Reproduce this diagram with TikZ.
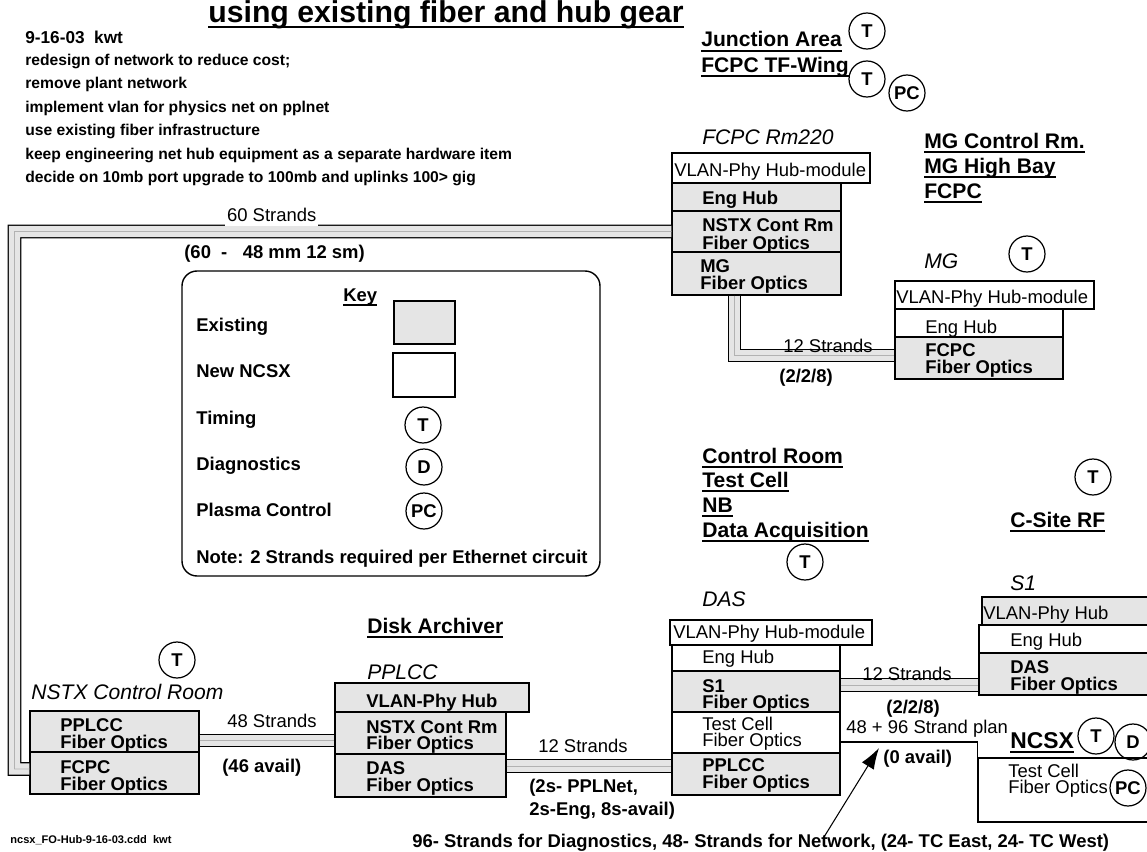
\documentclass[tikz,border=0pt]{standalone}
\usepackage{fontspec}
\setmainfont{Liberation Sans}
\usetikzlibrary{fit,arrows.meta}
\newcommand\myul[1]{\setbox0=\hbox{#1}\rlap{\rule[-2.7pt]{\wd0}{1.1pt}}\box0}
\newcommand\myulT[1]{\setbox0=\hbox{#1}\rlap{\rule[-3.4pt]{\wd0}{1.3pt}}\box0}
\tikzset{
  exist/.style={draw, line width=0.8pt, fill=gray!20, inner sep=0pt},
  newb/.style={draw, line width=0.8pt, fill=white, inner sep=0pt},
  bt/.style={font=\fontsize{10.5pt}{12pt}\selectfont\bfseries, anchor=base west, inner sep=0pt},
  rt/.style={font=\fontsize{10.5pt}{12pt}\selectfont, anchor=base west, inner sep=0pt},
  it/.style={font=\fontsize{12pt}{14pt}\selectfont\itshape, anchor=base west, inner sep=0pt},
  loc/.style={font=\fontsize{12pt}{14pt}\selectfont\bfseries, anchor=base west, inner sep=0pt},
  notet/.style={font=\fontsize{8.9pt}{11pt}\selectfont\bfseries, anchor=base west, inner sep=0pt},
  circ/.style={circle, draw, line width=0.7pt, minimum size=0.72cm, inner sep=0pt, font=\fontsize{10.5pt}{12pt}\selectfont\bfseries},
  cable/.style={line width=0.7pt, double=gray!20, double distance=6.4pt},
  cablemid/.style={line width=0.3pt, draw=gray!60},
}
\begin{document}
\begin{tikzpicture}[x=0.02cm,y=-0.02cm]
\useasboundingbox (0,0) rectangle (1147,852);
\clip (0,0) rectangle (1147,852);

% ---------- title and notes ----------
\node[font=\fontsize{17.2pt}{20pt}\selectfont\bfseries, anchor=base west, inner sep=0pt] (title) at (208,22) {\myulT{using existing fiber and hub gear}};
\node[notet, font=\fontsize{9.8pt}{11pt}\selectfont\bfseries] (n1) at (25,43) {9-16-03\ \ kwt};
\node[notet] (n2) at (25,65.4) {redesign of network to reduce cost;};
\node[notet] (n3) at (25,88.8) {remove plant network};
\node[notet] (n4) at (25,112.2) {implement vlan for physics net on pplnet};
\node[notet] (n5) at (25,135.6) {use existing fiber infrastructure};
\node[notet] (n6) at (25,159) {keep engineering net hub equipment as a separate hardware item};
\node[notet] (n7) at (25,182.4) {decide on 10mb port upgrade to 100mb and uplinks 100> gig};

% ---------- junction area ----------
\node[loc] (ja) at (701,47) {\myul{Junction Area}};
\node[loc] (jb) at (701,72) {\myul{FCPC TF-Wing}};
\node[circ] (jT1) at (867,31) {T};
\node[circ] (jT2) at (867,79) {T};
\node[circ] (jPC) at (907,93) {PC};

% ---------- FCPC Rm220 ----------
\node[it] (fl) at (702,144) {FCPC Rm220};
\node[newb, fit={(672,153) (870,183)}] (fV) {};
\node[exist, fit={(672,183) (841,211)}] (fEng) {};
\node[exist, fit={(672,211) (841,252)}] (fNSTX) {};
\node[exist, fit={(672,252) (841,295)}] (fMG) {};
\node[rt] at (674,176) {VLAN-Phy Hub-module};
\node[bt] at (702,204) {Eng Hub};
\node[bt] at (702,231) {NSTX Cont Rm};
\node[bt] at (702,249) {Fiber Optics};
\node[bt] at (700,272) {MG};
\node[bt] at (700,289) {Fiber Optics};

% ---------- MG ----------
\node[loc] (mga) at (924,148) {\myul{MG Control Rm.}};
\node[loc] (mgb) at (924,173) {\myul{MG High Bay}};
\node[loc] (mgc) at (924,198) {\myul{FCPC}};
\node[it] (ml) at (924,268) {MG};
\node[circ] (mT) at (1027,254) {T};
\node[newb, fit={(895,281) (1094,309)}] (mV) {};
\node[newb, fit={(895,309) (1063,337)}] (mEng) {};
\node[exist, fit={(895,337) (1063,379)}] (mFO) {};
\node[rt] at (896,303) {VLAN-Phy Hub-module};
\node[rt] at (925,333) {Eng Hub};
\node[bt] at (925,356) {FCPC};
\node[bt] at (925,373) {Fiber Optics};

% ---------- Key ----------
\node[draw, line width=0.8pt, rounded corners=0.3cm, fit={(182,271) (600,576)}, inner sep=0pt] (key) {};
\node[bt] at (343,301) {\myul{Key}};
\node[bt] at (196,331) {Existing};
\node[bt] at (196,377) {New NCSX};
\node[bt] at (196,424) {Timing};
\node[bt] at (196,470) {Diagnostics};
\node[bt] at (196,516) {Plasma Control};
\node[bt] at (196,563) {Note: 2 Strands required per Ethernet circuit};
\node[exist, fit={(394,301) (455,344)}] (kEx) {};
\node[newb, fit={(393,353) (455,397)}] (kNew) {};
\node[circ] (kT) at (423,425) {T};
\node[circ] (kD) at (424,467) {D};
\node[circ] (kPC) at (424,511) {PC};

% ---------- Control room / C-site ----------
\node[loc] (cr1) at (702,463) {\myul{Control Room}};
\node[loc] (cr2) at (702,487) {\myul{Test Cell}};
\node[loc] (cr3) at (702,512) {\myul{NB}};
\node[loc] (cr4) at (702,537) {\myul{Data Acquisition}};
\node[circ] (crT) at (805,562) {T};
\node[loc] (cs) at (1010,527) {\myul{C-Site RF}};
\node[circ] (csT) at (1093,477) {T};

% ---------- NSTX Control Room ----------
\node[it] (nl) at (31,699) {NSTX Control Room};
\node[circ] (nT) at (177,660) {T};
\node[exist, fit={(30,711) (199,752)}] (nP) {};
\node[exist, fit={(30,752) (199,794)}] (nF) {};
\node[bt] at (60,731) {PPLCC};
\node[bt] at (60,748) {Fiber Optics};
\node[bt] at (60,773) {FCPC};
\node[bt] at (60,790) {Fiber Optics};

% ---------- PPLCC ----------
\node[loc] (da) at (367,633) {\myul{Disk Archiver}};
\node[it] (pl) at (367,679) {PPLCC};
\node[exist, fit={(335,683) (529,712)}] (pV) {};
\node[exist, fit={(335,712) (506,754)}] (pN) {};
\node[exist, fit={(335,754) (506,797)}] (pD) {};
\node[bt] at (366,707) {VLAN-Phy Hub};
\node[bt] at (366,733) {NSTX Cont Rm};
\node[bt] at (366,749) {Fiber Optics};
\node[bt] at (366,774) {DAS};
\node[bt] at (366,791) {Fiber Optics};

% ---------- DAS ----------
\node[it] (dl) at (702,606) {DAS};
\node[newb, fit={(670,620) (872,645)}] (dV) {};
\node[newb, fit={(672,645) (840,671)}] (dEng) {};
\node[exist, fit={(672,671) (840,712)}] (dS1) {};
\node[newb, fit={(672,712) (840,753)}] (dTC) {};
\node[exist, fit={(672,753) (840,795)}] (dP) {};
\node[rt] at (673,638) {VLAN-Phy Hub-module};
\node[rt] at (702,663) {Eng Hub};
\node[bt] at (702,692) {S1};
\node[bt] at (702,708) {Fiber Optics};
\node[rt] at (702,730) {Test Cell};
\node[rt] at (702,746) {Fiber Optics};
\node[bt] at (702,771) {PPLCC};
\node[bt] at (702,788) {Fiber Optics};

% ---------- S1 ----------
\node[it] (sl) at (1010,590) {S1};
\node[exist, fit={(982,597) (1152,625)}] (sV) {};
\node[newb, fit={(979,625) (1152,653)}] (sEng) {};
\node[exist, fit={(979,653) (1152,695)}] (sD) {};
\node[rt] at (983,619) {VLAN-Phy Hub};
\node[rt] at (1010,646) {Eng Hub};
\node[bt] at (1010,673) {DAS};
\node[bt] at (1010,690) {Fiber Optics};

% ---------- NCSX ----------
\node[font=\fontsize{13pt}{15pt}\selectfont\bfseries, anchor=base west, inner sep=0pt] (ncl) at (1010,748) {\myul{NCSX}};
\node[newb, fit={(978,758) (1152,822)}] (ncB) {};
\node[rt] at (1008,777) {Test Cell};
\node[rt] at (1008,793) {Fiber Optics};
\node[circ] (ncT) at (1096,736) {T};
\node[circ] (ncD) at (1133,742) {D};
\node[circ] (ncPC) at (1128,788) {PC};

% ---------- cables ----------
\coordinate (c60a) at (14.5,231.5);
\coordinate (c60b) at (14.5,769);
\draw[cable] (fNSTX.west) -- (c60a) -- (c60b) -- (c60b -| nF.west);
\draw[cablemid] (fNSTX.west) -- (c60a) -- (c60b) -- (c60b -| nF.west);

\coordinate (cmg) at (734.5,355.5);
\draw[cable] (fMG.south -| cmg) -- (cmg) -- (cmg -| mFO.west);
\draw[cablemid] (fMG.south -| cmg) -- (cmg) -- (cmg -| mFO.west);

\coordinate (c48) at (199,740.5);
\draw[cable] (nP.east |- c48) -- (c48 -| pN.west);
\draw[cablemid] (nP.east |- c48) -- (c48 -| pN.west);

\coordinate (c12a) at (506,766);
\draw[cable] (pD.east |- c12a) -- (c12a -| dP.west);
\draw[cablemid] (pD.east |- c12a) -- (c12a -| dP.west);

\coordinate (c12b) at (840,685);
\draw[cable] (dS1.east |- c12b) -- (c12b -| sD.west);
\draw[cablemid] (dS1.east |- c12b) -- (c12b -| sD.west);

\coordinate (c144) at (840,742);
\draw[line width=0.7pt] (dTC.east |- c144) -| (ncB.north west);

% ---------- cable labels ----------
\node[rt, fill=white, inner sep=1pt, text depth=1.6pt] at (225,221) {60 Strands};
\node[bt] at (184,258) {(60\ \ -\ \ \ 48 mm 12 sm)};
\node[rt] at (783,352) {12 Strands};
\node[bt] at (779,382) {(2/2/8)};
\node[rt] at (227,727) {48 Strands};
\node[bt] at (222,772) {(46 avail)};
\node[rt] at (538,752) {12 Strands};
\node[bt] at (529,792) {(2s- PPLNet,};
\node[bt] at (529,815) {2s-Eng, 8s-avail)};
\node[rt] at (862,680) {12 Strands};
\node[bt] at (886,713) {(2/2/8)};
\node[rt] at (846,733) {48 + 96 Strand plan};
\node[bt] at (883,763) {(0 avail)};

% ---------- arrow and footer ----------
\coordinate (arrT) at (824,837);
\coordinate (arrH) at (879,748);
\draw[line width=0.6pt, -{Latex[length=12pt,width=8pt]}] (arrT) -- (arrH);
\node[font=\fontsize{10.5pt}{12pt}\selectfont\bfseries, anchor=base west, inner sep=0pt] (foot) at (412,847) {96- Strands for Diagnostics, 48- Strands for Network, (24- TC East, 24- TC West)};
\node[font=\fontsize{6.3pt}{8pt}\selectfont\bfseries, anchor=base west, inner sep=0pt] (file) at (10,843) {ncsx\_FO-Hub-9-16-03.cdd\ \ kwt};
\end{tikzpicture}
\end{document}
